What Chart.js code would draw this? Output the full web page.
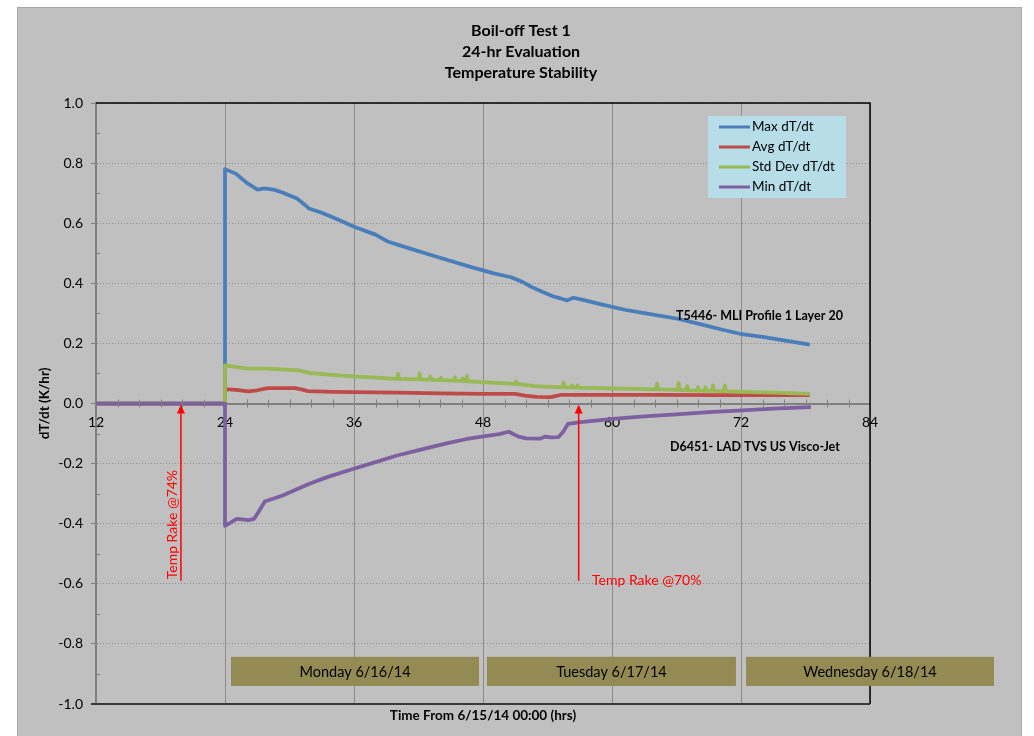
<!DOCTYPE html>
<html lang="en">
<head>
<meta charset="utf-8">
<title>Boil-off Test 1 - Temperature Stability</title>
<script src="https://cdn.jsdelivr.net/npm/chart.js@4.4.1/dist/chart.umd.min.js"></script>
<style>
  html, body { margin: 0; padding: 0; background: #fff; }
  #chart { display: block; }
</style>
</head>
<body>
<canvas id="chart" width="1034" height="736"></canvas>
<script>
// 温度安定性チャート（Boil-off Test 1）

const FONT = 'Lato, "Open Sans", sans-serif';

const titleLines = ['Boil-off Test 1', '24-hr Evaluation', 'Temperature Stability'];
const xTitle = 'Time From 6/15/14 00:00 (hrs)';
const yTitle = 'dT/dt (K/hr)';
const xTicks = [12, 24, 36, 48, 60, 72, 84];
const yTicks = [-1.0, -0.8, -0.6, -0.4, -0.2, 0.0, 0.2, 0.4, 0.6, 0.8, 1.0];
const seriesNames = ['Max dT/dt', 'Avg dT/dt', 'Std Dev dT/dt', 'Min dT/dt'];

// Max dT/dt
const maxHours = [12, 24, 24, 25, 26, 27, 27.7, 28.5, 29.5, 30.7, 31.3, 31.8, 33, 34.5, 36, 38, 39.2, 41, 43, 45, 47, 48, 49, 50, 50.6, 51.7, 52.5, 53.5, 54.5, 55.2, 55.8, 56.4, 57.5, 59, 61.2, 63, 66.1, 68, 70, 71.9, 74, 76, 78.4];
const maxValues = [0, 0, 0.78, 0.765, 0.735, 0.712, 0.716, 0.712, 0.700, 0.682, 0.665, 0.649, 0.635, 0.612, 0.588, 0.562, 0.538, 0.518, 0.496, 0.474, 0.453, 0.443, 0.433, 0.425, 0.420, 0.404, 0.388, 0.372, 0.357, 0.350, 0.343, 0.352, 0.343, 0.330, 0.312, 0.301, 0.282, 0.266, 0.248, 0.232, 0.222, 0.210, 0.196];

// Avg dT/dt
const avgHours = [12, 24, 24, 25, 26.2, 27, 28, 30.5, 31.2, 31.7, 34, 36, 40, 44, 48, 51, 51.9, 53, 54.3, 55.3, 58, 64, 70, 78.4];
const avgValues = [0, 0, 0.048, 0.045, 0.040, 0.044, 0.051, 0.051, 0.046, 0.041, 0.039, 0.038, 0.036, 0.034, 0.032, 0.032, 0.026, 0.022, 0.021, 0.029, 0.029, 0.029, 0.028, 0.028];

// Std Dev dT/dt（細かいスパイクを含む）
const stdHours = [12, 24, 24, 25, 26.1, 28, 30, 30.8, 32, 34, 36, 38, 40, 40.1, 40.2, 42, 42.1, 42.2, 43, 43.1, 43.2, 44, 44.1, 44.2, 45.3, 45.4, 45.5, 46, 46.1, 46.2, 46.4, 46.5, 46.6, 48, 50, 51, 51.1, 51.2, 52.8, 55.4, 55.5, 55.6, 56.2, 56.3, 56.4, 56.7, 56.8, 56.9, 60, 64.1, 64.2, 64.3, 66.1, 66.2, 66.3, 66.9, 67, 67.1, 67.9, 68, 68.1, 68.6, 68.7, 68.8, 69.3, 69.4, 69.5, 70.4, 70.5, 70.6, 72, 75, 78.4];
const stdValues = [0, 0, 0.127, 0.122, 0.116, 0.116, 0.112, 0.110, 0.101, 0.095, 0.090, 0.086, 0.082, 0.099, 0.082, 0.080, 0.100, 0.080, 0.079, 0.090, 0.079, 0.078, 0.086, 0.078, 0.076, 0.087, 0.076, 0.075, 0.083, 0.075, 0.074, 0.091, 0.074, 0.071, 0.067, 0.065, 0.073, 0.065, 0.058, 0.054, 0.069, 0.054, 0.054, 0.060, 0.054, 0.053, 0.060, 0.053, 0.050, 0.047, 0.066, 0.047, 0.045, 0.069, 0.045, 0.044, 0.058, 0.044, 0.043, 0.054, 0.043, 0.042, 0.054, 0.042, 0.042, 0.060, 0.042, 0.041, 0.060, 0.041, 0.039, 0.036, 0.032];

// Min dT/dt
const minHours = [12, 24, 24, 25.1, 26.2, 26.7, 27.1, 27.7, 29.3, 31.8, 33.5, 35.9, 38, 40, 42.5, 44.8, 46.5, 47.9, 49.5, 50.4, 51.3, 52, 53.3, 53.8, 54.3, 55, 55.5, 55.9, 57.1, 60.1, 63, 66, 69, 72.1, 75, 78.5];
const minValues = [0, 0, -0.407, -0.384, -0.388, -0.384, -0.362, -0.326, -0.307, -0.268, -0.245, -0.218, -0.195, -0.173, -0.151, -0.131, -0.118, -0.110, -0.102, -0.094, -0.110, -0.116, -0.117, -0.110, -0.113, -0.112, -0.092, -0.068, -0.062, -0.051, -0.043, -0.036, -0.029, -0.023, -0.017, -0.012];

// 注記（曜日ラベル・センサー名・温度レーキ）
const dayLabels = ['Monday 6/16/14', 'Tuesday 6/17/14', 'Wednesday 6/18/14'];
const dayStart = [24.56, 48.37, 72.47];
const dayEnd = [47.63, 71.53, 95.53];
const sensorLabels = ['T5446- MLI Profile 1 Layer 20', 'D6451- LAD TVS US Visco-Jet'];
const rakeLabels = ['Temp Rake @74%', 'Temp Rake @70%'];
const rakeHours = [19.9, 56.9];

const colors = ['#4a7ebb', '#be4b48', '#98b954', '#7d60a0'];

document.addEventListener('DOMContentLoaded', () => {
  renderChart();
});

// {x, y} の配列を作る
function toPoints(hours, values) {
  return hours.map((h, i) => ({ x: h, y: values[i] }));
}

// 背景・枠・注記を描くプラグイン
const decorPlugin = {
  id: 'decor',
  beforeDraw(chart) {
    const ctx = chart.ctx;
    ctx.save();
    ctx.fillStyle = '#ffffff';
    ctx.fillRect(0, 0, chart.width, chart.height);
    ctx.fillStyle = '#c0c0c0';
    ctx.fillRect(17, 7, 1005, 740);
    ctx.strokeStyle = '#a8a8a8';
    ctx.lineWidth = 1;
    ctx.strokeRect(17.5, 7.5, 1004, 740);
    ctx.restore();
  },
  afterDatasetsDraw(chart) {
    const ctx = chart.ctx;
    const area = chart.chartArea;
    const xs = chart.scales.x;
    const ys = chart.scales.y;
    const y0 = ys.getPixelForValue(0);
    ctx.save();

    // 補助目盛り
    ctx.strokeStyle = '#808080';
    ctx.lineWidth = 1;
    ctx.beginPath();
    for (let h = 14; h < 84; h += 2) {
      if (h % 12 === 0) continue;
      const px = Math.round(xs.getPixelForValue(h)) + 0.5;
      ctx.moveTo(px, y0 - 4);
      ctx.lineTo(px, y0 + 4);
    }
    for (let i = -9; i <= 9; i += 2) {
      const py = Math.round(ys.getPixelForValue(i / 10)) + 0.5;
      ctx.moveTo(area.left, py);
      ctx.lineTo(area.left + 4, py);
    }
    ctx.stroke();

    // プロット枠
    ctx.strokeStyle = '#000';
    ctx.lineWidth = 1.5;
    ctx.beginPath();
    ctx.moveTo(area.left, area.top);
    ctx.lineTo(area.right, area.top);
    ctx.lineTo(area.right, area.bottom);
    ctx.stroke();
    ctx.strokeStyle = '#3a3a3a';
    ctx.lineWidth = 2;
    ctx.beginPath();
    ctx.moveTo(area.left - 5, area.bottom);
    ctx.lineTo(area.right, area.bottom);
    ctx.stroke();

    // 温度レーキの矢印
    const yEnd = ys.getPixelForValue(-0.59);
    ctx.strokeStyle = '#ff0000';
    ctx.fillStyle = '#ff0000';
    ctx.lineWidth = 1.5;
    rakeHours.forEach(h => {
      const px = xs.getPixelForValue(h);
      ctx.beginPath();
      ctx.moveTo(px, y0 + 8);
      ctx.lineTo(px, yEnd);
      ctx.stroke();
      ctx.beginPath();
      ctx.moveTo(px, y0 + 1);
      ctx.lineTo(px - 4, y0 + 10);
      ctx.lineTo(px + 4, y0 + 10);
      ctx.closePath();
      ctx.fill();
    });

    ctx.font = '14px ' + FONT;
    ctx.textBaseline = 'middle';
    ctx.save();
    ctx.translate(xs.getPixelForValue(19.07), ys.getPixelForValue(-0.403));
    ctx.rotate(-Math.PI / 2);
    ctx.textAlign = 'center';
    ctx.fillText(rakeLabels[0], 0, 0);
    ctx.restore();
    ctx.textAlign = 'left';
    ctx.fillText(rakeLabels[1], xs.getPixelForValue(58.14), ys.getPixelForValue(-0.59));

    // センサー名
    ctx.fillStyle = '#000';
    ctx.font = 'bold 12.5px ' + FONT;
    ctx.fillText(sensorLabels[0], xs.getPixelForValue(65.95), ys.getPixelForValue(0.29));
    ctx.fillText(sensorLabels[1], xs.getPixelForValue(65.4), ys.getPixelForValue(-0.143));
    ctx.restore();
  },
  afterDraw(chart) {
    const ctx = chart.ctx;
    const area = chart.chartArea;
    const xs = chart.scales.x;
    const ys = chart.scales.y;
    ctx.save();

    // タイトル
    ctx.fillStyle = '#000';
    ctx.textAlign = 'center';
    ctx.textBaseline = 'middle';
    ctx.font = 'bold 16px ' + FONT;
    titleLines.forEach((t, i) => ctx.fillText(t, 521, 31 + i * 21));

    // 軸タイトル
    ctx.font = 'bold 13.5px ' + FONT;
    ctx.fillText(xTitle, (area.left + area.right) / 2, 716);
    ctx.save();
    ctx.translate(45, ys.getPixelForValue(0));
    ctx.rotate(-Math.PI / 2);
    ctx.fillText(yTitle, 0, 0);
    ctx.restore();

    // 曜日ボックス
    ctx.font = '14.5px ' + FONT;
    const boxTop = ys.getPixelForValue(-0.843);
    const boxBottom = ys.getPixelForValue(-0.94);
    dayLabels.forEach((label, i) => {
      const x1 = xs.getPixelForValue(dayStart[i]);
      const x2 = xs.getPixelForValue(dayEnd[i]);
      ctx.fillStyle = '#948a54';
      ctx.fillRect(x1, boxTop, x2 - x1, boxBottom - boxTop);
      ctx.fillStyle = '#000';
      ctx.fillText(label, (x1 + x2) / 2, (boxTop + boxBottom) / 2 + 1);
    });

    // 凡例
    ctx.fillStyle = '#b7dee8';
    ctx.fillRect(708, 116, 138, 82);
    ctx.font = '13.5px ' + FONT;
    ctx.textAlign = 'left';
    seriesNames.forEach((name, i) => {
      const ly = 127 + i * 20;
      ctx.strokeStyle = colors[i];
      ctx.lineWidth = 3;
      ctx.beginPath();
      ctx.moveTo(719, ly);
      ctx.lineTo(750, ly);
      ctx.stroke();
      ctx.fillStyle = '#000';
      ctx.fillText(name, 752, ly);
    });
    ctx.restore();
  }
};

// チャートを描画
function renderChart() {
  const ctx = document.getElementById('chart').getContext('2d');
  const seriesData = [
    toPoints(maxHours, maxValues),
    toPoints(avgHours, avgValues),
    toPoints(stdHours, stdValues),
    toPoints(minHours, minValues)
  ];

  new Chart(ctx, {
    type: 'line',
    data: {
      datasets: seriesNames.map((name, i) => ({
        label: name,
        data: seriesData[i],
        borderColor: colors[i],
        backgroundColor: colors[i],
        borderWidth: 3.75,
        borderJoinStyle: 'round',
        pointRadius: 0,
        tension: 0,
        fill: false,
        order: 4 - i
      }))
    },
    options: {
      responsive: false,
      animation: false,
      devicePixelRatio: 1,
      layout: { padding: { left: 20, right: 164, top: 103, bottom: 32 } },
      plugins: {
        legend: { display: false },
        title: { display: false },
        tooltip: { enabled: false }
      },
      scales: {
        x: {
          type: 'linear',
          position: { y: 0 },
          min: 12,
          max: 84,
          afterBuildTicks: axis => { axis.ticks = xTicks.map(v => ({ value: v })); },
          ticks: {
            font: { family: FONT, size: 14 },
            color: '#000',
            padding: 11,
            maxRotation: 0,
            callback: v => String(v)
          },
          grid: { color: '#8c8c8c', lineWidth: 1, drawTicks: false },
          border: { display: true, color: '#808080', width: 2 }
        },
        y: {
          type: 'linear',
          position: 'left',
          min: -1,
          max: 1,
          afterBuildTicks: axis => { axis.ticks = yTicks.map(v => ({ value: v })); },
          afterFit: axis => { axis.width = 76; },
          ticks: {
            font: { family: FONT, size: 14 },
            color: '#000',
            padding: 8,
            callback: v => (Math.abs(v) < 1e-9 ? 0 : v).toFixed(1)
          },
          grid: { color: '#8c8c8c', lineWidth: 1, tickLength: 5, tickColor: '#808080', tickBorderDash: [] },
          border: { display: true, color: '#808080', width: 2, dash: [1, 2] }
        }
      }
    },
    plugins: [decorPlugin]
  });
}
</script>
</body>
</html>
